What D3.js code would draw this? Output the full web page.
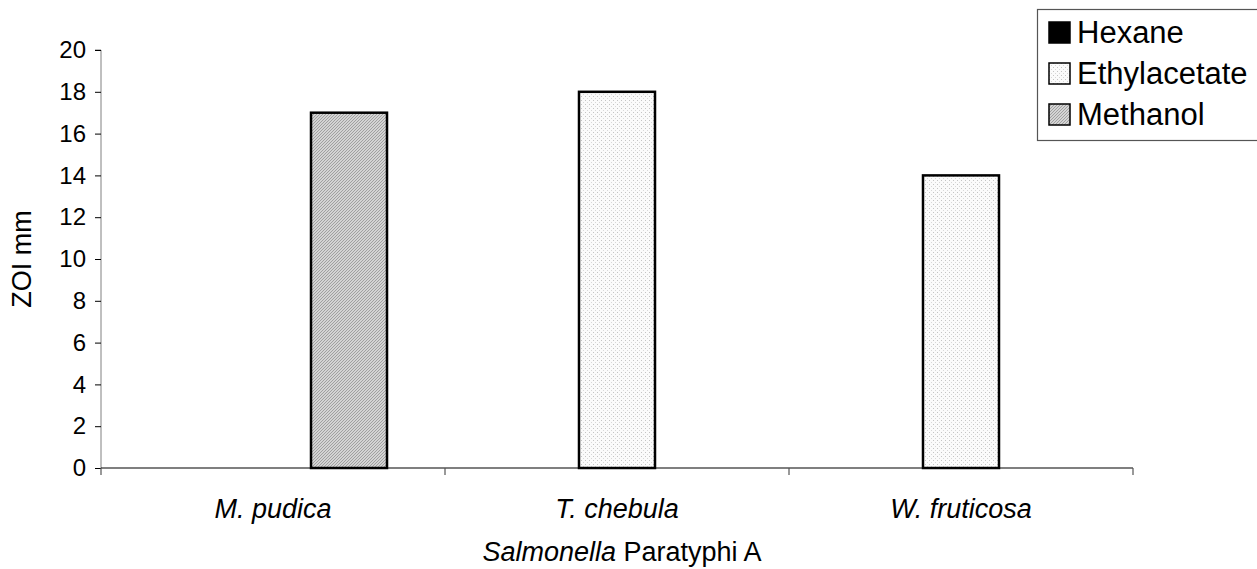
<!DOCTYPE html>
<html>
<head>
<meta charset="utf-8">
<script src="https://cdn.jsdelivr.net/npm/d3@7"></script>
<style>
  body { margin: 0; background: #fff; }
  svg { display: block; font-family: Arial, "Liberation Sans", sans-serif; }
</style>
</head>
<body>
<div id="chart"></div>
<script>
// Chart data
const categories = ["M. pudica", "T. chebula", "W. fruticosa"];
const seriesNames = ["Hexane", "Ethylacetate", "Methanol"];
const hexane = [0, 0, 0];
const ethylacetate = [0, 18, 14];
const methanol = [17, 0, 0];
const yTicks = [0, 2, 4, 6, 8, 10, 12, 14, 16, 18, 20];

const width = 1257, height = 569;
const margin = { top: 50, right: 124, bottom: 101, left: 101 };

const svg = d3.select("#chart")
    .append("svg")
    .attr("width", width)
    .attr("height", height);

// fill patterns like the old Excel chart
const defs = svg.append("defs");

const hatch = defs.append("pattern")
    .attr("id", "hatch")
    .attr("patternUnits", "userSpaceOnUse")
    .attr("width", 3)
    .attr("height", 3);
hatch.append("rect").attr("width", 3).attr("height", 3).attr("fill", "#d4d4d4");
hatch.append("path")
    .attr("d", "M0,3L3,0M-1,1L1,-1M2,4L4,2")
    .attr("stroke", "#9a9a9a")
    .attr("stroke-width", 0.9);

const dots = defs.append("pattern")
    .attr("id", "dots")
    .attr("patternUnits", "userSpaceOnUse")
    .attr("width", 4)
    .attr("height", 4);
dots.append("rect").attr("width", 4).attr("height", 4).attr("fill", "#fbfbfb");
dots.append("rect").attr("x", 0).attr("y", 0).attr("width", 1).attr("height", 1).attr("fill", "#c4c4c4");
dots.append("rect").attr("x", 2).attr("y", 2).attr("width", 1).attr("height", 1).attr("fill", "#d8d8d8");

const fills = {
    "Hexane": "#000000",
    "Ethylacetate": "url(#dots)",
    "Methanol": "url(#hatch)",
};

const rows = categories.map((c, i) => ({
    category: c,
    values: [
        { key: "Hexane", value: hexane[i] },
        { key: "Ethylacetate", value: ethylacetate[i] },
        { key: "Methanol", value: methanol[i] },
    ],
}));

const x0 = d3.scaleBand()
    .domain(categories)
    .range([margin.left, width - margin.right])
    .padding(0);

const x1 = d3.scaleBand()
    .domain(seriesNames)
    .range([0, x0.bandwidth()])
    .paddingInner(0)
    .paddingOuter(0.763);

const y = d3.scaleLinear()
    .domain([0, 20])
    .range([height - margin.bottom, margin.top]);

// y axis
const yAxis = svg.append("g")
    .attr("transform", `translate(${margin.left},0)`)
    .call(d3.axisLeft(y).tickValues(yTicks).tickSize(6).tickPadding(9).tickFormat(d3.format("d")));
yAxis.select(".domain").attr("stroke", "#808080").attr("d", `M-6,${y(20)}H0V${y(0)}`);
yAxis.selectAll(".tick line").attr("stroke", "#000");
yAxis.selectAll(".tick text")
    .attr("font-size", 24)
    .attr("fill", "#000")
    .attr("font-family", "Arial, 'Liberation Sans', sans-serif");

// bars
const groups = svg.append("g")
    .selectAll("g")
    .data(rows)
    .enter()
    .append("g")
    .attr("transform", (d) => `translate(${x0(d.category)},0)`);

groups.selectAll("rect")
    .data((d) => d.values.filter((v) => v.value > 0))
    .enter()
    .append("rect")
    .attr("x", (d) => x1(d.key))
    .attr("y", (d) => y(d.value))
    .attr("width", x1.bandwidth())
    .attr("height", (d) => y(0) - y(d.value))
    .attr("fill", (d) => fills[d.key])
    .attr("stroke", "#000")
    .attr("stroke-width", 2.5);

// x axis (category separators)
const xAxisG = svg.append("g");
xAxisG.append("line")
    .attr("x1", margin.left)
    .attr("x2", width - margin.right)
    .attr("y1", y(0))
    .attr("y2", y(0))
    .attr("stroke", "#000")
    .attr("stroke-width", 1.2);

const edges = categories.map((c) => x0(c)).concat([x0(categories[categories.length - 1]) + x0.bandwidth()]);
xAxisG.selectAll(".sep")
    .data(edges)
    .enter()
    .append("line")
    .attr("class", "sep")
    .attr("x1", (d) => d)
    .attr("x2", (d) => d)
    .attr("y1", y(0))
    .attr("y2", y(0) + 7)
    .attr("stroke", "#555")
    .attr("stroke-width", 1.2);

xAxisG.selectAll(".cat")
    .data(categories)
    .enter()
    .append("text")
    .attr("class", "cat")
    .attr("x", (d) => x0(d) + x0.bandwidth() / 2)
    .attr("y", 518)
    .attr("text-anchor", "middle")
    .attr("font-size", 27)
    .attr("font-style", "italic")
    .text((d) => d);

// axis titles
const xTitle = svg.append("text")
    .attr("x", (margin.left + width - margin.right) / 2 + 5)
    .attr("y", 561)
    .attr("text-anchor", "middle")
    .attr("font-size", 27);
xTitle.append("tspan").attr("font-style", "italic").text("Salmonella");
xTitle.append("tspan").text(" Paratyphi A");

svg.append("text")
    .attr("transform", `translate(31,${(y(0) + y(20)) / 2}) rotate(-90)`)
    .attr("text-anchor", "middle")
    .attr("font-size", 27)
    .text("ZOI mm");

// legend
const legend = svg.append("g").attr("transform", "translate(1037,9)");
legend.append("rect")
    .attr("x", 0.5)
    .attr("y", 0.5)
    .attr("width", 240)
    .attr("height", 131)
    .attr("fill", "#fff")
    .attr("stroke", "#555")
    .attr("stroke-width", 1.2);

const item = legend.selectAll(".item")
    .data(seriesNames)
    .enter()
    .append("g")
    .attr("class", "item")
    .attr("transform", (d, i) => `translate(0,${13 + i * 41})`);

item.append("rect")
    .attr("x", 12)
    .attr("y", 0)
    .attr("width", 21)
    .attr("height", 21)
    .attr("fill", (d) => fills[d])
    .attr("stroke", "#000")
    .attr("stroke-width", 1.5);

item.append("text")
    .attr("x", 40)
    .attr("y", 21)
    .attr("font-size", 31)
    .text((d) => d);
</script>
</body>
</html>
